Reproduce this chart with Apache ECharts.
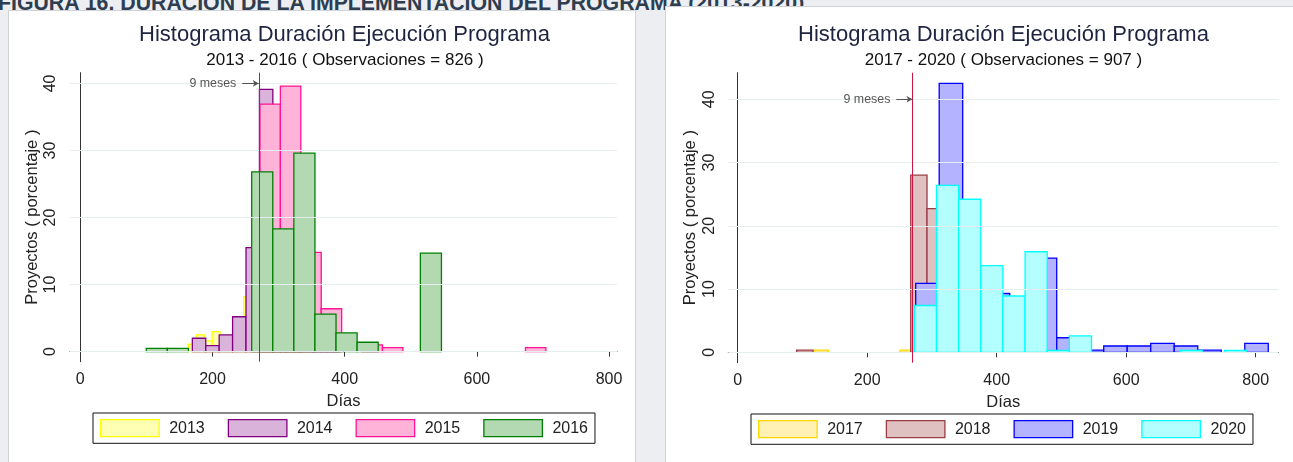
<!DOCTYPE html>
<html>
<head>
<meta charset="utf-8">
<script src="https://cdn.jsdelivr.net/npm/echarts@6/dist/echarts.min.js"></script>
<style>
  body { margin: 0; background: #eceef1; font-family: "Liberation Sans", Arial, sans-serif; }
  #page { position: relative; width: 1293px; height: 462px; overflow: hidden; }
  #heading { position: absolute; left: -2px; top: -7px; line-height: 21px; font-size: 21.3px; font-weight: bold; color: #2e3d4f; white-space: nowrap; }
  .card { position: absolute; background: #fff; border: 1px solid #cfd3d8; box-sizing: border-box; }
  #chart { position: absolute; left: 0; top: 0; width: 1293px; height: 462px; }
</style>
</head>
<body>
<div id="page">
  <div id="heading">FIGURA 16. DURACIÓN DE LA IMPLEMENTACIÓN DEL PROGRAMA (2013-2020)</div>
  <div class="card" style="left:8px; top:10px; width:628px; height:470px"></div>
  <div class="card" style="left:665px; top:6px; width:640px; height:470px"></div>
  <div id="chart"></div>
</div>
<script>
// histogram bins: first bin start (days), bin width (days), percentages per bin
var start2013 = 163.4, width2013 = 12;
var pct2013 = [1.1, 2.5, 1.6, 3.0, 1.5, 2.0, 4.0, 8.2, 14, 20, 16, 12, 8, 4, 2.1];
var start2014 = 169.5, width2014 = 20.3;
var pct2014 = [2.0, 0.9, 2.5, 5.2, 15.5, 39.1, 18, 10, 4, 2, 0.8];
var start2015 = 271.8, width2015 = 30.9;
var pct2015 = [36.9, 39.6, 14.8, 6.4, 0, 1.0, 0.6, 0, 0, 0, 0, 0, 0, 0.6];
var start2016 = 99.8, width2016 = 31.9;
var pct2016 = [0.5, 0.5, 0, 0, 0, 26.8, 18.3, 29.6, 5.6, 2.8, 1.4, 0, 0, 14.7];

var start2017 = 117.8, width2017 = 22.15;
var pct2017 = [0.35, 0, 0, 0, 0, 0, 0.35, 22, 20, 24, 18, 9, 4, 2.3];
var start2018 = 91.1, width2018 = 25.16;
var pct2018 = [0.35, 0, 0, 0, 0, 0, 0, 28.0, 22.7, 18, 14, 9, 5, 3];
var start2019 = 274.9, width2019 = 36.3;
var pct2019 = [10.9, 42.5, 9, 9.3, 4.6, 14.9, 2.3, 0.36, 1.0, 1.0, 1.4, 1.0, 0.36, 0, 1.4];
var start2020 = 272.8, width2020 = 34.2;
var pct2020 = [7.4, 26.4, 24.2, 13.7, 8.9, 15.9, 0.3, 2.6, 0, 0, 0, 0, 0.3, 0, 0.3];

var xTicks = [0, 200, 400, 600, 800];
var yTicks = [0, 10, 20, 30, 40];
var nueveMeses = 270;

var years = [
  { name: "2013", panel: 0, start: start2013, width: width2013, pct: pct2013, fill: "#ffffb3", line: "#ffff00" },
  { name: "2014", panel: 0, start: start2014, width: width2014, pct: pct2014, fill: "#d9b3d9", line: "#800080" },
  { name: "2015", panel: 0, start: start2015, width: width2015, pct: pct2015, fill: "#ffb3d9", line: "#ff1493" },
  { name: "2016", panel: 0, start: start2016, width: width2016, pct: pct2016, fill: "#b3d9b3", line: "#008000" },
  { name: "2017", panel: 1, start: start2017, width: width2017, pct: pct2017, fill: "#fff0b3", line: "#ffd700" },
  { name: "2018", panel: 1, start: start2018, width: width2018, pct: pct2018, fill: "#dfc1c1", line: "#9c3c44" },
  { name: "2019", panel: 1, start: start2019, width: width2019, pct: pct2019, fill: "#b3b3ff", line: "#0000ff" },
  { name: "2020", panel: 1, start: start2020, width: width2020, pct: pct2020, fill: "#b3ffff", line: "#00ffff" }
];

function bins(y) {
  var out = [];
  y.pct.forEach(function (v, i) {
    if (v > 0) out.push([y.start + i * y.width, y.start + (i + 1) * y.width, v]);
  });
  return out;
}

var font = "Liberation Sans";

function xAxis(idx, min, max) {
  return {
    gridIndex: idx, type: "value", min: min, max: max,
    name: "Días", nameLocation: "middle", nameGap: 23,
    nameTextStyle: { fontFamily: font, fontSize: 16.5, color: "#222" },
    axisLine: { show: true, lineStyle: { color: "#333", width: 1 } },
    axisTick: { show: true, length: 5, customValues: xTicks, lineStyle: { color: "#333" } },
    axisLabel: { customValues: xTicks, margin: 10, fontFamily: font, fontSize: 16, color: "#222" },
    splitLine: { show: false }
  };
}

function yAxis(idx, min, max) {
  return {
    gridIndex: idx, type: "value", min: min, max: max,
    name: "Proyectos ( porcentaje )", nameLocation: "middle", nameGap: 29, nameRotate: 90,
    nameTextStyle: { fontFamily: font, fontSize: 16.5, color: "#222" },
    axisLine: { show: true, lineStyle: { color: "#333", width: 1 } },
    axisTick: { show: true, length: 5, customValues: yTicks, lineStyle: { color: "#333" } },
    axisLabel: { customValues: yTicks, rotate: 90, margin: 11, fontFamily: font, fontSize: 16, color: "#222" },
    splitLine: { show: false }
  };
}

function guides(idx) {
  return [{
    type: "line", xAxisIndex: idx, yAxisIndex: idx, data: [], z: 1, silent: true,
    markLine: {
      silent: true, symbol: ["none", "none"], animation: false,
      label: { show: false },
      lineStyle: { color: "#e6eef0", width: 1, type: "solid" },
      data: yTicks.map(function (v) { return { yAxis: v }; })
    }
  }, {
    type: "line", xAxisIndex: idx, yAxisIndex: idx, data: [], z: 10, silent: true,
    markLine: {
      silent: true, symbol: ["none", "none"], animation: false,
      label: { show: false },
      lineStyle: { color: "#cf1240", width: 1, type: "solid" },
      data: [{ xAxis: nueveMeses }]
    }
  }, {
    type: "line", xAxisIndex: idx, yAxisIndex: idx, data: [], z: 10, silent: true,
    markLine: {
      silent: true, symbol: ["none", "arrow"], symbolSize: [5, 6], animation: false,
      label: { show: true, position: "start", formatter: "9 meses", distance: 6,
               fontFamily: font, fontSize: 12.4, color: "#555" },
      lineStyle: { color: "#555", width: 1, type: "solid" },
      data: [[{ coord: [245, 40] }, { coord: [nueveMeses, 40] }]]
    }
  }];
}

var series = [];
series = series.concat(guides(0), guides(1));
years.forEach(function (y) {
  series.push({
    name: y.name, type: "custom", xAxisIndex: y.panel, yAxisIndex: y.panel, z: 2,
    itemStyle: { color: y.fill, borderColor: y.line, borderWidth: 1.3 },
    data: bins(y),
    renderItem: function (params, api) {
      var p0 = api.coord([api.value(0), api.value(2)]);
      var p1 = api.coord([api.value(1), 0]);
      return {
        type: "rect",
        shape: { x: p0[0], y: p0[1], width: p1[0] - p0[0], height: p1[1] - p0[1] },
        style: { fill: y.fill, stroke: y.line, lineWidth: 1.3 }
      };
    }
  });
});

function legend(list, left, top) {
  return {
    left: left, top: top, orient: "horizontal", selectedMode: false,
    backgroundColor: "#fff", borderColor: "#111", borderWidth: 1, borderRadius: 0,
    padding: [6, 7], itemWidth: 58.5, itemHeight: 17, itemGap: 23, icon: "rect",
    textStyle: { fontFamily: font, fontSize: 16, color: "#222", padding: [0, 0, 0, 5] },
    data: list.map(function (y) {
      return { name: y.name, icon: "rect", itemStyle: { color: y.fill, borderColor: y.line, borderWidth: 1.3 } };
    })
  };
}

function title(text, x, y, size, color) {
  return { type: "text", x: x, y: y,
    style: { text: text, font: size + "px " + font, fill: color,
             align: "center", verticalAlign: "middle", textAlign: "center", textVerticalAlign: "middle" } };
}

var chart = echarts.init(document.getElementById("chart"));
chart.setOption({
  animation: false,
  backgroundColor: "transparent",
  grid: [
    { left: 70, top: 72.7, width: 547, height: 289 },
    { left: 728.3, top: 72.7, width: 550, height: 290 }
  ],
  xAxis: [xAxis(0, -15.6, 812), xAxis(1, -14.5, 834.9)],
  yAxis: [yAxis(0, -1.5, 41.6), yAxis(1, -1.64, 44.2)],
  legend: [
    legend(years.filter(function (y) { return y.panel === 0; }), 93, 413),
    legend(years.filter(function (y) { return y.panel === 1; }), 751, 414)
  ],
  graphic: [
    title("Histograma Duración Ejecución Programa", 344.5, 35, 22, "#1e2440"),
    title("2013 - 2016 ( Observaciones = 826 )", 345, 60, 17, "#111"),
    title("Histograma Duración Ejecución Programa", 1003.5, 35, 22, "#1e2440"),
    title("2017 - 2020 ( Observaciones = 907 )", 1003.5, 60, 17, "#111")
  ],
  series: series
});
</script>
</body>
</html>
